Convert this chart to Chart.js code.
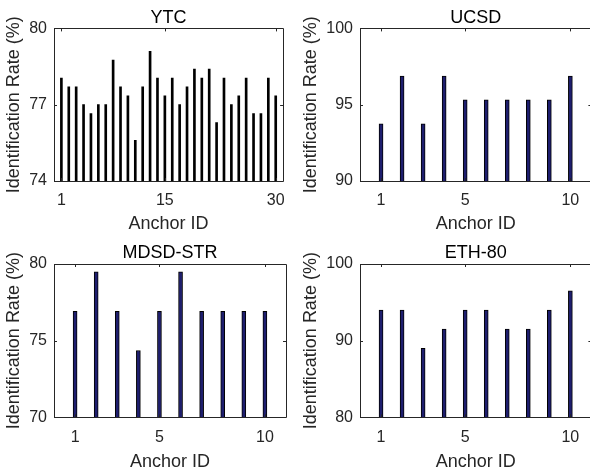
<!DOCTYPE html>
<html>
<head>
<meta charset="utf-8">
<script src="https://cdn.jsdelivr.net/npm/chart.js@4/dist/chart.umd.min.js"></script>
<style>
  html, body { margin: 0; padding: 0; background: #fff; overflow: hidden; width: 590px; height: 471px; }
  .panel { position: absolute; }
  canvas { display: block; }
</style>
</head>
<body>
<div class="panel" style="left:0px;top:0px;"><canvas id="c1" width="295" height="235"></canvas></div>
<div class="panel" style="left:295px;top:0px;"><canvas id="c2" width="300" height="235"></canvas></div>
<div class="panel" style="left:0px;top:235px;"><canvas id="c3" width="295" height="236"></canvas></div>
<div class="panel" style="left:295px;top:235px;"><canvas id="c4" width="300" height="236"></canvas></div>
<script>
// ---- Data ----
const ytcIds = [1,2,3,4,5,6,7,8,9,10,11,12,13,14,15,16,17,18,19,20,21,22,23,24,25,26,27,28,29,30];
const ytcRates = [78.05,77.7,77.7,77.0,76.65,77.0,77.0,78.75,77.7,77.35,75.6,77.7,79.1,78.05,77.35,78.05,77.0,77.7,78.4,78.05,78.4,76.3,78.05,77.0,77.35,78.05,76.65,76.65,78.05,77.35];
const ytcXTicks = [1, 15, 30];
const ytcYTicks = [74, 77, 80];

const tenIds = [1,2,3,4,5,6,7,8,9,10];
const tenXTicks = [1, 5, 10];

const ucsdRates = [93.75,96.875,93.75,96.875,95.3125,95.3125,95.3125,95.3125,95.3125,96.875];
const ucsdYTicks = [90, 95, 100];

const mdsdRates = [76.92,79.49,76.92,74.36,76.92,79.49,76.92,76.92,76.92,76.92];
const mdsdYTicks = [70, 75, 80];

const ethRates = [94,94,89,91.5,94,94,91.5,91.5,94,96.5];
const ethYTicks = [80, 90, 100];

const titles = ['YTC', 'UCSD', 'MDSD-STR', 'ETH-80'];
const xLabel = 'Anchor ID';
const yLabel = 'Identification Rate (%)';

// ---- Styling ----
const FONT = '"Liberation Sans", Arial, Helvetica, sans-serif';
const AX = '#262626';

const framePlugin = {
  id: 'frame',
  afterDatasetsDraw(chart) {
    const {ctx, chartArea: a, scales: {x, y}} = chart;
    const tl = 3;
    ctx.save();
    ctx.strokeStyle = AX;
    ctx.lineWidth = 1;
    ctx.beginPath();
    ctx.rect(Math.round(a.left) + 0.5, Math.round(a.top) + 0.5, Math.round(a.right - a.left), Math.round(a.bottom - a.top));
    x.ticks.forEach(t => {
      const px = Math.round(x.getPixelForValue(t.value)) + 0.5;
      ctx.moveTo(px, a.bottom); ctx.lineTo(px, a.bottom - tl);
      ctx.moveTo(px, a.top); ctx.lineTo(px, a.top + tl);
    });
    y.ticks.forEach(t => {
      const py = Math.round(y.getPixelForValue(t.value)) + 0.5;
      ctx.moveTo(a.left, py); ctx.lineTo(a.left + tl, py);
      ctx.moveTo(a.right, py); ctx.lineTo(a.right - tl, py);
    });
    ctx.stroke();
    ctx.restore();
  }
};

function makeChart(id, cfg) {
  const data = cfg.ids.map((v, i) => ({x: v, y: cfg.rates[i]}));
  return new Chart(document.getElementById(id), {
    type: 'bar',
    data: {
      datasets: [{
        data: data,
        backgroundColor: cfg.fill,
        borderColor: '#000000',
        borderWidth: cfg.border,
        borderSkipped: 'start',
        barThickness: cfg.barW
      }]
    },
    options: {
      responsive: false,
      animation: false,
      events: [],
      layout: { padding: { left: 0, right: cfg.padRight, top: 0, bottom: 0 } },
      plugins: {
        legend: { display: false },
        tooltip: { enabled: false },
        title: {
          display: true,
          fullSize: false,
          text: cfg.title,
          color: '#000000',
          font: { family: FONT, size: 18, weight: 'normal', lineHeight: 1.2 },
          padding: { top: cfg.titleTop, bottom: cfg.titleBottom }
        }
      },
      scales: {
        x: {
          type: 'linear',
          offset: false,
          bounds: 'ticks',
          min: cfg.xmin, max: cfg.xmax,
          grid: { display: false, drawTicks: false, offset: false },
          border: { display: false },
          afterBuildTicks: s => { s.ticks = cfg.xTicks.map(v => ({value: v})); },
          afterFit: s => { s.height = cfg.xAxisH; },
          ticks: { color: AX, padding: cfg.xTickPad, font: { family: FONT, size: 16 }, maxRotation: 0, autoSkip: false },
          title: { display: true, text: xLabel, color: AX, font: { family: FONT, size: 18, lineHeight: 1.2 }, padding: { top: 0, bottom: cfg.xTitlePad } }
        },
        y: {
          type: 'linear',
          min: cfg.ymin, max: cfg.ymax,
          grid: { display: false, drawTicks: false },
          border: { display: false },
          afterBuildTicks: s => { s.ticks = cfg.yTicks.map(v => ({value: v})); },
          afterFit: s => { s.width = cfg.yAxisW; },
          ticks: { color: AX, padding: 7, font: { family: FONT, size: 16 } },
          title: { display: true, text: yLabel, color: AX, font: { family: FONT, size: 18, lineHeight: 1.2 }, padding: { top: cfg.yTitlePad, bottom: 0 } }
        }
      }
    },
    plugins: [framePlugin]
  });
}

const NAVY = '#1e1e6e';

makeChart('c1', { ids: ytcIds, rates: ytcRates, xTicks: ytcXTicks, yTicks: ytcYTicks, xmin: 0, xmax: 31, ymin: 74, ymax: 80,
  title: titles[0], fill: '#000000', border: 0, barW: 2, padRight: 9, yAxisW: 54, xAxisH: 54,
  titleTop: 6.8, titleBottom: 0, xTickPad: 10, xTitlePad: 0.2, yTitlePad: 3 });
makeChart('c2', { ids: tenIds, rates: ucsdRates, xTicks: tenXTicks, yTicks: ucsdYTicks, xmin: 0, xmax: 11, ymin: 90, ymax: 100,
  title: titles[1], fill: NAVY, border: 1, barW: 4, padRight: 3.6, yAxisW: 65, xAxisH: 54,
  titleTop: 6.8, titleBottom: 0, xTickPad: 10, xTitlePad: 0.2, yTitlePad: 5 });
makeChart('c3', { ids: tenIds, rates: mdsdRates, xTicks: tenXTicks, yTicks: mdsdYTicks, xmin: 0, xmax: 11, ymin: 70, ymax: 80,
  title: titles[2], fill: NAVY, border: 1, barW: 4, padRight: 9, yAxisW: 54, xAxisH: 53.7,
  titleTop: 6.8, titleBottom: 0.6, xTickPad: 10.5, xTitlePad: -1.6, yTitlePad: 3 });
makeChart('c4', { ids: tenIds, rates: ethRates, xTicks: tenXTicks, yTicks: ethYTicks, xmin: 0, xmax: 11, ymin: 80, ymax: 100,
  title: titles[3], fill: NAVY, border: 1, barW: 4, padRight: 3.6, yAxisW: 65, xAxisH: 53.7,
  titleTop: 6.8, titleBottom: 0.6, xTickPad: 10.5, xTitlePad: -1.6, yTitlePad: 5 });
</script>
</body>
</html>
